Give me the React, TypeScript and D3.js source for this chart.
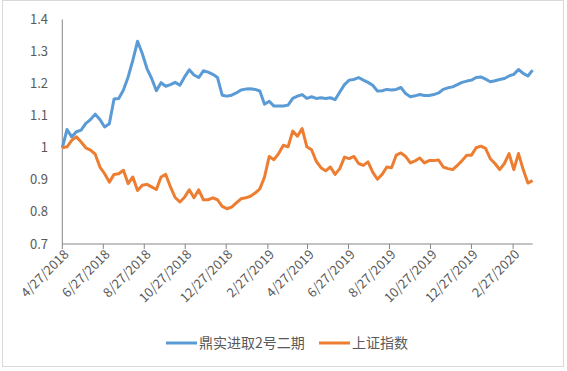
import React from 'react';
import * as d3 from 'd3';

// weekly NAV, starting 4/27/2018
const startDate = new Date(2018, 3, 27);
const weeks = 101;

const fundName = '鼎实进取2号二期';
const indexName = '上证指数';

const fundValues = [
  1.000, 1.057, 1.034, 1.050, 1.055, 1.076, 1.088, 1.105, 1.088, 1.065,
  1.075, 1.152, 1.154, 1.180, 1.221, 1.273, 1.332, 1.294, 1.247, 1.216,
  1.178, 1.203, 1.192, 1.197, 1.204, 1.195, 1.221, 1.243, 1.227, 1.219,
  1.240, 1.236, 1.229, 1.219, 1.164, 1.161, 1.164, 1.171, 1.180, 1.183,
  1.184, 1.182, 1.177, 1.136, 1.145, 1.130, 1.130, 1.130, 1.133, 1.154,
  1.161, 1.166, 1.154, 1.159, 1.154, 1.156, 1.154, 1.156, 1.150, 1.174,
  1.197, 1.211, 1.213, 1.219, 1.211, 1.204, 1.195, 1.177, 1.178, 1.182,
  1.180, 1.182, 1.188, 1.169, 1.159, 1.162, 1.166, 1.163, 1.163, 1.166,
  1.171, 1.182, 1.187, 1.190, 1.197, 1.204, 1.208, 1.211, 1.219, 1.221,
  1.214, 1.206, 1.209, 1.213, 1.216, 1.224, 1.229, 1.244, 1.232, 1.224,
  1.242,
];

const indexValues = [
  1.000, 1.003, 1.023, 1.034, 1.018, 1.000, 0.993, 0.980, 0.940, 0.919,
  0.893, 0.917, 0.919, 0.930, 0.888, 0.909, 0.867, 0.883, 0.886, 0.878,
  0.870, 0.909, 0.917, 0.878, 0.845, 0.831, 0.846, 0.869, 0.844, 0.869,
  0.838, 0.838, 0.844, 0.838, 0.817, 0.810, 0.815, 0.828, 0.841, 0.844,
  0.849, 0.859, 0.872, 0.909, 0.973, 0.963, 0.982, 1.008, 1.003, 1.052,
  1.036, 1.060, 1.003, 0.994, 0.958, 0.938, 0.928, 0.940, 0.917, 0.935,
  0.971, 0.966, 0.973, 0.951, 0.945, 0.956, 0.924, 0.902, 0.917, 0.940,
  0.938, 0.977, 0.984, 0.973, 0.953, 0.959, 0.968, 0.953, 0.960, 0.960,
  0.962, 0.940, 0.935, 0.932, 0.945, 0.960, 0.977, 0.977, 1.000, 1.005,
  0.998, 0.966, 0.951, 0.932, 0.951, 0.982, 0.932, 0.982, 0.932, 0.890,
  0.898,
];

const xTickLabels = [
  '4/27/2018', '6/27/2018', '8/27/2018', '10/27/2018', '12/27/2018', '2/27/2019',
  '4/27/2019', '6/27/2019', '8/27/2019', '10/27/2019', '12/27/2019', '2/27/2020',
];
const yTicks = [0.7, 0.8, 0.9, 1, 1.1, 1.2, 1.3, 1.4];

const BLUE = '#5B9BD5';
const ORANGE = '#ED7D31';
const AXIS = '#868686';
const TEXT = '#595959';
const FONT = "'Noto Sans CJK SC', 'Liberation Sans', sans-serif";

const App = () => {
  const dates = d3.range(weeks).map(i => d3.timeDay.offset(startDate, i * 7));
  const parse = d3.timeParse('%m/%d/%Y');

  const x = d3.scaleTime()
    .domain([dates[0], dates[dates.length - 1]])
    .range([62.3, 532.6]);
  const y = d3.scaleLinear().domain([0.7, 1.4]).range([244, 19.5]);

  const line = d3.line<number>()
    .x((_, i) => x(dates[i]))
    .y(d => y(d));

  const legend = [
    { name: fundName, color: BLUE, x: 166 },
    { name: indexName, color: ORANGE, x: 319 },
  ];

  return (
    <svg width={567} height={371} style={{ position: 'absolute', left: 0, top: 0, background: '#fff' }}
      fontFamily={FONT}>
      <rect x={2.5} y={0.5} width={561} height={366} fill="#fff" stroke="#d9d9d9" />

      {/* y axis labels */}
      {yTicks.map(t => (
        <text key={t} x={48} y={y(t)} dy="0.35em" textAnchor="end" fontSize={13} fill={TEXT}>
          {d3.format('')(t)}
        </text>
      ))}

      {/* axes */}
      <line x1={62.3} x2={62.3} y1={y(1.4)} y2={y(0.7)} stroke={AXIS} />
      <line x1={62.3} x2={532.6} y1={y(0.7)} y2={y(0.7)} stroke={AXIS} />
      {xTickLabels.map(l => {
        const tx = x(parse(l) as Date);
        return (
          <g key={l}>
            <line x1={tx} x2={tx} y1={y(0.7)} y2={y(0.7) + 5} stroke={AXIS} />
            <text transform={`translate(${tx + 4},${y(0.7) + 8}) rotate(-45)`} dy="0.35em"
              textAnchor="end" fontSize={13} fill={TEXT}>{l}</text>
          </g>
        );
      })}

      {/* series */}
      <path d={line(fundValues) || ''} fill="none" stroke={BLUE} strokeWidth={3} strokeLinejoin="round" />
      <path d={line(indexValues) || ''} fill="none" stroke={ORANGE} strokeWidth={3} strokeLinejoin="round" />

      {/* legend */}
      {legend.map(l => (
        <g key={l.name}>
          <line x1={l.x} x2={l.x + 31} y1={343} y2={343} stroke={l.color} strokeWidth={3} />
          <text x={l.x + 33} y={343} dy="0.35em" fontSize={14} fill={TEXT}>{l.name}</text>
        </g>
      ))}
    </svg>
  );
};

export default App;
